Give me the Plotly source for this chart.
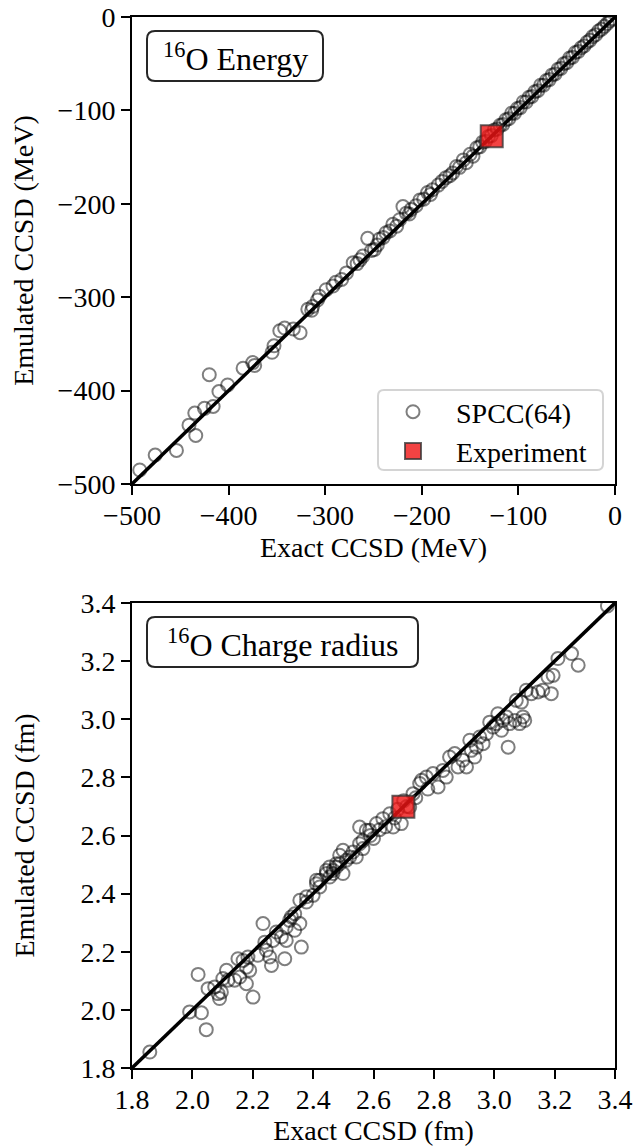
import plotly.graph_objects as go
from plotly.subplots import make_subplots

# 16O energy (MeV): exact CCSD vs emulated (SPCC 64)
energy_exact = [-492, -476, -454, -441, -435, -434, -425, -416, -420, -410, -401, -385, -375, -373,
                -355, -353, -347, -342, -333, -326, -318, -314, -313, -308, -306, -299, -292, -289,
                -283, -278, -271, -267, -264, -261, -256, -252, -249, -246, -244, -240, -237, -233,
                -230, -226, -223, -219.5, -216, -213, -211, -206, -202, -198, -194, -191, -189, -183,
                -179, -175, -171, -168, -164, -161, -157, -154, -150, -147, -143, -140, -137, -134,
                -131, -128, -125, -122, -119, -116, -113, -110, -107, -104, -101, -98, -95, -92,
                -89, -86, -83, -80, -77, -74, -71, -68, -65, -62, -59, -56, -53, -50, -47, -44,
                -41, -38, -35, -32, -29, -26, -23, -20, -17, -14, -11, -8, -5, -3]
energy_emul = [-485, -469, -464, -437, -424, -448, -419, -417, -383, -401, -394, -376, -370, -373,
               -359, -352, -336, -333, -334, -338, -313, -314, -310, -303, -299, -292, -288, -284,
               -281, -274, -263, -264, -260, -256, -237, -250, -249, -244, -238, -236, -231, -229,
               -222, -224, -217, -203, -210, -211, -206, -202, -196, -195, -188, -190, -185, -180,
               -176, -172, -170, -167, -160, -161, -153, -156, -147, -149, -140, -139, -134, -133,
               -128, -127, -121, -120, -116, -115, -110, -109, -103, -103, -98, -97, -91, -91,
               -86, -85, -80, -79, -73, -73, -68, -67, -62, -61, -56, -55, -50, -49, -44, -43,
               -38, -37, -33, -31, -27, -25, -21, -19, -15, -13, -10, -7, -4, -2]
energy_expt = [-127.6]

# 16O charge radius (fm)
radius_exact = [1.859, 1.991, 2.03, 2.046, 2.019, 2.052, 2.074, 2.085, 2.09, 2.096, 2.101, 2.118, 2.113,
                2.14, 2.157, 2.151, 2.168, 2.179, 2.184, 2.19, 2.179, 2.201, 2.217, 2.234, 2.24, 2.245,
                2.256, 2.262, 2.267, 2.278, 2.295, 2.306, 2.311, 2.328, 2.339, 2.361, 2.311, 2.322,
                2.339, 2.356, 2.356, 2.378, 2.378, 2.4, 2.411, 2.411, 2.422, 2.422, 2.444, 2.444,
                2.455, 2.455, 2.466, 2.466, 2.477, 2.477, 2.488, 2.488, 2.499, 2.499, 2.51, 2.521,
                2.532, 2.543, 2.554, 2.554, 2.565, 2.565, 2.576, 2.587, 2.59, 2.60, 2.61, 2.62, 2.631,
                2.64, 2.654, 2.665, 2.67, 2.68, 2.692, 2.70, 2.71, 2.72, 2.731, 2.74, 2.753, 2.759,
                2.775, 2.78, 2.797, 2.814, 2.83, 2.841, 2.852, 2.869, 2.88, 2.896, 2.908, 2.919,
                2.924, 2.935, 2.941, 2.952, 2.963, 2.974, 2.985, 2.996, 3.007, 3.012, 3.024, 3.029,
                3.04, 3.046, 3.051, 3.068, 3.084, 3.095, 3.101, 3.073, 3.09, 3.106, 3.123, 3.145,
                3.161, 3.189, 3.178, 3.195, 3.211, 3.256, 3.278, 3.375]
radius_emul = [1.855, 1.993, 1.99, 1.932, 2.122, 2.073, 2.079, 2.056, 2.039, 2.061, 2.108, 2.102, 2.136,
               2.102, 2.113, 2.176, 2.17, 2.147, 2.182, 2.136, 2.09, 2.044, 2.188, 2.297, 2.233, 2.205,
               2.182, 2.153, 2.239, 2.268, 2.251, 2.176, 2.239, 2.32, 2.274, 2.216, 2.285, 2.308,
               2.331, 2.297, 2.377, 2.371, 2.389, 2.394, 2.434, 2.446, 2.446, 2.423, 2.469, 2.48,
               2.457, 2.492, 2.48, 2.469, 2.492, 2.503, 2.503, 2.532, 2.469, 2.549, 2.515, 2.526,
               2.543, 2.526, 2.572, 2.629, 2.555, 2.583, 2.618, 2.618, 2.60, 2.59, 2.641, 2.62, 2.658,
               2.63, 2.675, 2.629, 2.66, 2.69, 2.641, 2.72, 2.70, 2.698, 2.744, 2.73, 2.779, 2.79,
               2.801, 2.76, 2.813, 2.767, 2.824, 2.801, 2.87, 2.882, 2.836, 2.859, 2.836, 2.928,
               2.893, 2.87, 2.904, 2.939, 2.916, 2.95, 2.99, 2.973, 2.985, 3.019, 2.962, 2.996,
               3.008, 2.904, 2.985, 2.996, 2.985, 3.008, 2.996, 3.065, 3.059, 3.1, 3.088, 3.094,
               3.1, 3.088, 3.145, 3.151, 3.209, 3.226, 3.186, 3.39]
radius_expt = [2.699]

energy_range = [-500, 0]
radius_range = [1.8, 3.4]
energy_ticks = [-500, -400, -300, -200, -100, 0]
radius_ticks = [1.8, 2.0, 2.2, 2.4, 2.6, 2.8, 3.0, 3.2, 3.4]

FONT = "'Liberation Serif', 'Times New Roman', 'DejaVu Serif', serif"
W, H = 634, 1146
L, R, T, B = 132, 615, 17, 1068


def px(x, y):
    return (x - L) / (R - L), (B - y) / (B - T)


def rbox(x0, y0, x1, y1, r):
    pts = [("M", x0 + r, y0), ("L", x1 - r, y0), ("Q", x1, y0, x1, y0 + r),
           ("L", x1, y1 - r), ("Q", x1, y1, x1 - r, y1), ("L", x0 + r, y1),
           ("Q", x0, y1, x0, y1 - r), ("L", x0, y0 + r), ("Q", x0, y0, x0 + r, y0)]
    s = ""
    for p in pts:
        s += p[0]
        coords = p[1:]
        for i in range(0, len(coords), 2):
            a, b = px(coords[i], coords[i + 1])
            s += f" {a:.5f},{b:.5f}"
        s += " "
    return s + "Z"


fig = make_subplots(rows=2, cols=1)

circ = dict(symbol="circle-open", size=13, color="rgba(0,0,0,0.5)", line=dict(width=2))
sq = dict(symbol="square", size=22, color="rgba(240,20,20,0.8)",
          line=dict(width=2, color="rgba(50,50,50,0.75)"))

fig.add_trace(go.Scatter(x=energy_exact, y=energy_emul, mode="markers", marker=circ,
                         name="SPCC(64)", legendgroup="a"), row=1, col=1)
fig.add_trace(go.Scatter(x=energy_range, y=energy_range, mode="lines",
                         line=dict(color="black", width=3.5), showlegend=False), row=1, col=1)
fig.add_trace(go.Scatter(x=energy_expt, y=energy_expt, mode="markers", marker=sq,
                         name="Experiment", legendgroup="b"), row=1, col=1)

fig.add_trace(go.Scatter(x=radius_exact, y=radius_emul, mode="markers", marker=circ,
                         showlegend=False), row=2, col=1)
fig.add_trace(go.Scatter(x=radius_range, y=radius_range, mode="lines",
                         line=dict(color="black", width=3.5), showlegend=False), row=2, col=1)
fig.add_trace(go.Scatter(x=radius_expt, y=radius_expt, mode="markers", marker=sq,
                         showlegend=False), row=2, col=1)

tfont = dict(family=FONT, size=28, color="black")
ax = dict(showgrid=False, zeroline=False, showline=True, mirror=True, linecolor="black",
          linewidth=2, ticks="outside", ticklen=9, tickwidth=2, tickcolor="black",
          tickfont=tfont, automargin=False)

fig.update_xaxes(ax)
fig.update_yaxes(ax)
fig.update_xaxes(ticklabelstandoff=-4)
fig.update_xaxes(range=energy_range, tickvals=energy_ticks, domain=[0, 1],
                 title=dict(text="Exact CCSD (MeV)", standoff=8, font=tfont), row=1, col=1)
fig.update_yaxes(range=energy_range, tickvals=energy_ticks, domain=[px(0, 484)[1], 1],
                 title=dict(text="Emulated CCSD (MeV)", standoff=16, font=tfont), row=1, col=1)
fig.update_xaxes(range=radius_range, tickvals=radius_ticks, tickformat=".1f", domain=[0, 1],
                 title=dict(text="Exact CCSD (fm)", standoff=8, font=tfont), row=2, col=1)
fig.update_yaxes(range=radius_range, tickvals=radius_ticks, tickformat=".1f",
                 domain=[0, px(0, 603)[1]],
                 title=dict(text="Emulated CCSD (fm)", standoff=38, font=tfont), row=2, col=1)

shapes = [
    dict(type="path", xref="paper", yref="paper", path=rbox(147, 31, 323, 81, 8),
         line=dict(color="rgba(0,0,0,0.85)", width=2), fillcolor="white", layer="above"),
    dict(type="path", xref="paper", yref="paper", path=rbox(147, 617, 418, 667, 8),
         line=dict(color="rgba(0,0,0,0.85)", width=2), fillcolor="white", layer="above"),
    dict(type="path", xref="paper", yref="paper", path=rbox(378, 390, 603, 470, 6),
         line=dict(color="#d4d4d4", width=2), fillcolor="rgba(255,255,255,0.85)", layer="above"),
]

annotations = [
    dict(text="<sup>16</sup>O Energy", x=px(235, 0)[0], y=px(0, 57)[1], xref="paper", yref="paper",
         showarrow=False, font=dict(family=FONT, size=32, color="black"), xanchor="center",
         yanchor="middle"),
    dict(text="<sup>16</sup>O Charge radius", x=px(282.5, 0)[0], y=px(0, 643)[1], xref="paper",
         yref="paper", showarrow=False, font=dict(family=FONT, size=32, color="black"),
         xanchor="center", yanchor="middle"),
]

fig.update_layout(
    width=W, height=H,
    margin=dict(l=L, r=W - R, t=T, b=H - B, autoexpand=False),
    paper_bgcolor="white", plot_bgcolor="white",
    font=dict(family=FONT, size=28, color="black"),
    shapes=shapes, annotations=annotations,
    legend=dict(x=px(370, 0)[0], y=px(0, 387)[1], xanchor="left", yanchor="top",
                bgcolor="rgba(0,0,0,0)", borderwidth=0, itemwidth=76,
                font=dict(family=FONT, size=28, color="black"), tracegroupgap=0),
    showlegend=True,
)

# drop the default 8px body margin so the figure sits at the page corner
fig.write_html("out.html", config={"displayModeBar": False},
               post_script="document.body.style.margin='0';")
